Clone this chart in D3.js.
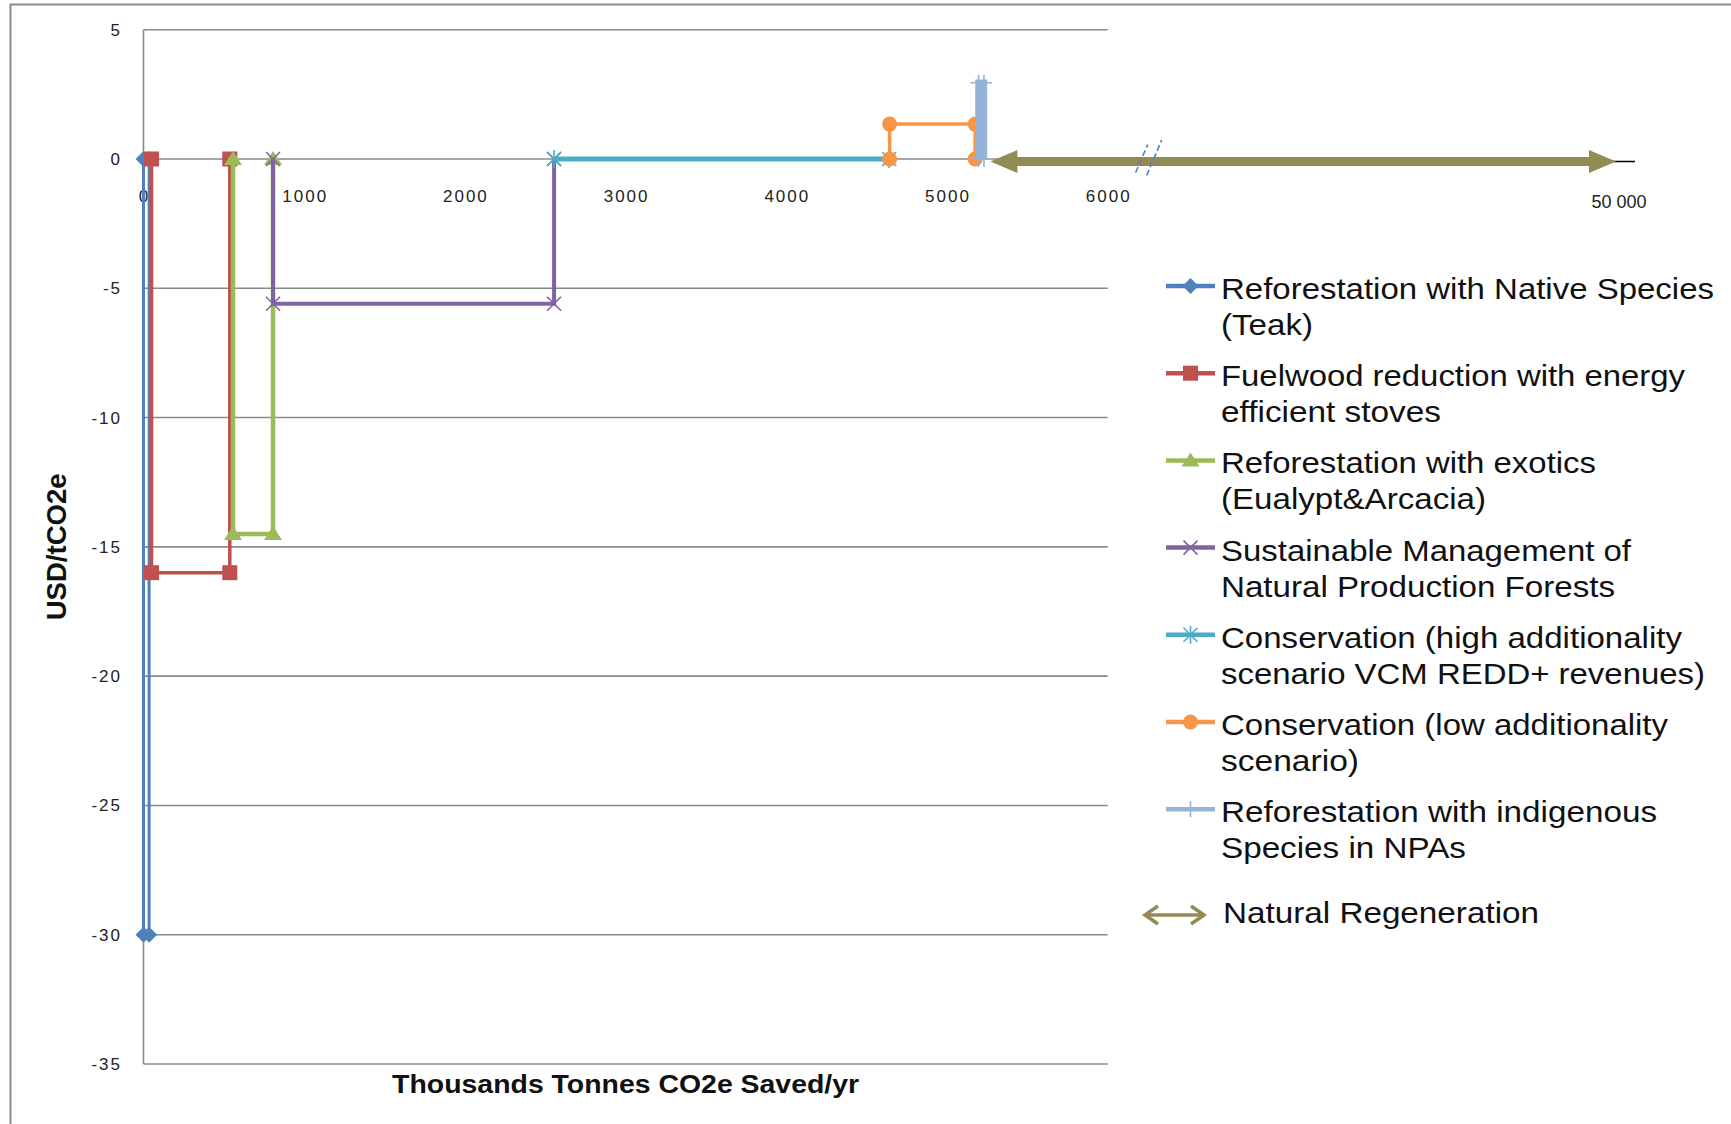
<!DOCTYPE html>
<html><head><meta charset="utf-8">
<script src="https://cdn.jsdelivr.net/npm/d3@7"></script>
<style>
body{margin:0;background:#fff;}
svg{display:block;}
text{font-family:"Liberation Sans",Arial,sans-serif;}
</style>
</head><body>
<svg id="c" width="1731" height="1124"></svg>
<script>
// ---------------- DATA ----------------
const xTicks = [0, 1000, 2000, 3000, 4000, 5000, 6000];
const yTicks = [5, 0, -5, -10, -15, -20, -25, -30, -35];
const xBreakValue = 50000;
const xBreakLabel = "50 000";
const xTitle = "Thousands Tonnes CO2e Saved/yr";
const yTitle = "USD/tCO2e";

// step series (x = cumulative thousand tonnes, y = USD/tCO2e)
const teakX        = [0, 0, 35, 35];
const teakY        = [0, -30, -30, 0];
const fuelwoodX    = [50, 50, 537, 537];
const fuelwoodY    = [0, -16, -16, 0];
const exoticsX     = [557, 557, 806, 806];
const exoticsY     = [0, -14.5, -14.5, 0];
const sustainableX = [806, 806, 2555, 2555];
const sustainableY = [0, -5.6, -5.6, 0];
const consHighX    = [2555, 4640];
const consHighY    = [0, 0];
const consLowX     = [4643, 4643, 5175, 5175];
const consLowY     = [0, 1.35, 1.35, 0];
const indigenousX  = [5196, 5196, 5230, 5230];
const indigenousY  = [0, 2.95, 2.95, 0];
const natRegenX    = [5270, 50000];
const natRegenY    = [0, 0];

const legendLabels = [
  ["Reforestation with Native Species", "(Teak)"],
  ["Fuelwood reduction with energy", "efficient stoves"],
  ["Reforestation with exotics", "(Eualypt&Arcacia)"],
  ["Sustainable Management of", "Natural Production Forests"],
  ["Conservation (high additionality", "scenario VCM REDD+ revenues)"],
  ["Conservation (low additionality", "scenario)"],
  ["Reforestation with indigenous", "Species in NPAs"]
];
const natRegenLabel = "Natural Regeneration";

// ---------------- STYLE / LAYOUT ----------------
const seriesStyle = [
  {color:"#4F81BD", width:3,   marker:"diamond"},
  {color:"#C0504D", width:3.5, marker:"square"},
  {color:"#9BBB59", width:4.5, marker:"triangle"},
  {color:"#8064A2", width:4,   marker:"x"},
  {color:"#4BACC6", width:5,   marker:"star"},
  {color:"#F79646", width:3.5, marker:"circle"},
  {color:"#95B3D7", width:6.5, marker:"plus"}
];
const olive = "#948A54";
const legendWidths = [[493,92],[464,220],[375,265],[410,394],[461,484],[447,138],[436,245]];
const natRegenWidth = 316;

const svg = d3.select("#c");

// outer frame
svg.append("rect").attr("x",10.5).attr("y",4.5).attr("width",1800).attr("height",1300)
  .attr("fill","none").attr("stroke","#8c8c8c").attr("stroke-width",2);

const x = d3.scaleLinear().domain([0, 6000, xBreakValue]).range([143.5, 1107.7, 1616]);
const y = d3.scaleLinear().domain([-35, 5]).range([1064, 29.7]);

// gridlines
svg.append("g").selectAll("line").data(yTicks).join("line")
  .attr("x1", x(0)).attr("x2", x(6000))
  .attr("y1", d => y(d)).attr("y2", d => y(d))
  .attr("stroke", "#8a8a8a").attr("stroke-width", 1.6);
// left axis line
svg.append("line").attr("x1", x(0)).attr("x2", x(0)).attr("y1", y(5)).attr("y2", y(-35))
  .attr("stroke", "#8a8a8a").attr("stroke-width", 1.6);

// y tick labels
svg.append("g").selectAll("text").data(yTicks).join("text")
  .attr("x", 122).attr("y", d => y(d) + 6)
  .attr("text-anchor", "end").attr("font-size", 17).attr("letter-spacing", 2)
  .attr("fill", "#222").text(d => d);

// x tick labels
svg.append("g").selectAll("text").data(xTicks).join("text")
  .attr("x", d => x(d) + 1).attr("y", 202)
  .attr("text-anchor", "middle").attr("font-size", 17).attr("letter-spacing", 2)
  .attr("fill", "#222").text(d => d);
svg.append("text").attr("x", x(xBreakValue) + 3).attr("y", 208)
  .attr("text-anchor", "middle").attr("font-size", 18).attr("fill", "#222")
  .text(xBreakLabel);

// axis titles
svg.append("text").attr("x", (x(0) + x(6000)) / 2).attr("y", 1093)
  .attr("text-anchor", "middle").attr("font-size", 26).attr("font-weight", "bold")
  .attr("textLength", 467).attr("lengthAdjust", "spacingAndGlyphs")
  .attr("fill", "#111").text(xTitle);
svg.append("text").attr("transform", `translate(66,${(y(5) + y(-35)) / 2}) rotate(-90)`)
  .attr("text-anchor", "middle").attr("font-size", 27).attr("font-weight", "bold")
  .attr("textLength", 147).attr("lengthAdjust", "spacingAndGlyphs")
  .attr("fill", "#111").text(yTitle);

// markers
function marker(g, type, cx, cy, color) {
  const m = g.append("g").attr("transform", `translate(${cx},${cy})`);
  if (type === "diamond") m.append("path").attr("d", "M0,-8L8,0L0,8L-8,0Z").attr("fill", color);
  else if (type === "square") m.append("rect").attr("x", -7.5).attr("y", -7.5).attr("width", 15).attr("height", 15).attr("fill", color);
  else if (type === "triangle") m.append("path").attr("d", "M0,-8L9,6L-9,6Z").attr("fill", color);
  else if (type === "circle") m.append("circle").attr("r", 7.5).attr("fill", color);
  else {
    const segs = [];
    if (type === "x" || type === "star") segs.push([-7,-7,7,7], [-7,7,7,-7]);
    if (type === "star") segs.push([0,-9,0,9]);
    if (type === "plus") segs.push([-8,0,8,0], [0,-8,0,8]);
    segs.forEach(s => m.append("line").attr("x1", s[0]).attr("y1", s[1]).attr("x2", s[2]).attr("y2", s[3])
      .attr("stroke", color).attr("stroke-width", 1.6));
  }
}

const seriesData = [
  [teakX, teakY], [fuelwoodX, fuelwoodY], [exoticsX, exoticsY], [sustainableX, sustainableY],
  [consHighX, consHighY], [consLowX, consLowY], [indigenousX, indigenousY]
];
const line = d3.line().x(d => x(d[0])).y(d => y(d[1]));
const plotG = svg.append("g");
seriesData.forEach(([xs, ys], i) => {
  const pts = xs.map((v, j) => [v, ys[j]]);
  const st = seriesStyle[i];
  plotG.append("path").attr("d", line(pts)).attr("fill", "none")
    .attr("stroke", st.color).attr("stroke-width", st.width).attr("stroke-linejoin", "miter");
  pts.forEach(p => marker(plotG, st.marker, x(p[0]), y(p[1]), st.color));
});

// Natural regeneration double arrow
const ay = y(natRegenY[0]) + 2.5;
const ax1 = x(natRegenX[0]), ax2 = x(natRegenX[1]);
svg.append("line").attr("x1", ax2 - 15).attr("x2", ax2 + 19).attr("y1", ay).attr("y2", ay)
  .attr("stroke", "#000").attr("stroke-width", 1.5);
const hl = 27, hh = 11.5, sh = 4.5;
svg.append("path").attr("fill", olive).attr("d",
  `M${ax1},${ay}L${ax1+hl},${ay-hh}L${ax1+hl},${ay-sh}L${ax2-hl},${ay-sh}L${ax2-hl},${ay-hh}` +
  `L${ax2},${ay}L${ax2-hl},${ay+hh}L${ax2-hl},${ay+sh}L${ax1+hl},${ay+sh}L${ax1+hl},${ay+hh}Z`);

// axis break marks
const bx = x(6000) + 28;
[[0, 0], [11, 3]].forEach(o => {
  svg.append("line").attr("x1", bx + o[0]).attr("y1", ay + 11 + o[1])
    .attr("x2", bx + o[0] + 12 + o[1]).attr("y2", ay - 17 - o[1] * 1.5)
    .attr("stroke", "#4F81BD").attr("stroke-width", 1.6).attr("stroke-dasharray", "6,3");
});

// legend
const lg = svg.append("g");
legendLabels.forEach((lines, i) => {
  const ly = 286 + i * 87.2;
  const st = seriesStyle[i];
  lg.append("line").attr("x1", 1166).attr("x2", 1215).attr("y1", ly).attr("y2", ly)
    .attr("stroke", st.color).attr("stroke-width", 4.5);
  marker(lg, st.marker, 1190.5, ly, st.color);
  lines.forEach((t, k) => {
    lg.append("text").attr("x", 1221).attr("y", ly + 13 + k * 36)
      .attr("font-size", 30).attr("fill", "#111")
      .attr("textLength", legendWidths[i][k]).attr("lengthAdjust", "spacingAndGlyphs")
      .text(t);
  });
});
const ny = 915;
lg.append("line").attr("x1", 1146).attr("x2", 1203).attr("y1", ny).attr("y2", ny)
  .attr("stroke", olive).attr("stroke-width", 3.5);
lg.append("path").attr("d", `M1158,${ny-9}L1145,${ny}L1158,${ny+9}M1191,${ny-9}L1204,${ny}L1191,${ny+9}`)
  .attr("fill", "none").attr("stroke", olive).attr("stroke-width", 3.5);
lg.append("text").attr("x", 1223).attr("y", ny + 8).attr("font-size", 30).attr("fill", "#111")
  .attr("textLength", natRegenWidth).attr("lengthAdjust", "spacingAndGlyphs").text(natRegenLabel);
</script>
</body></html>
